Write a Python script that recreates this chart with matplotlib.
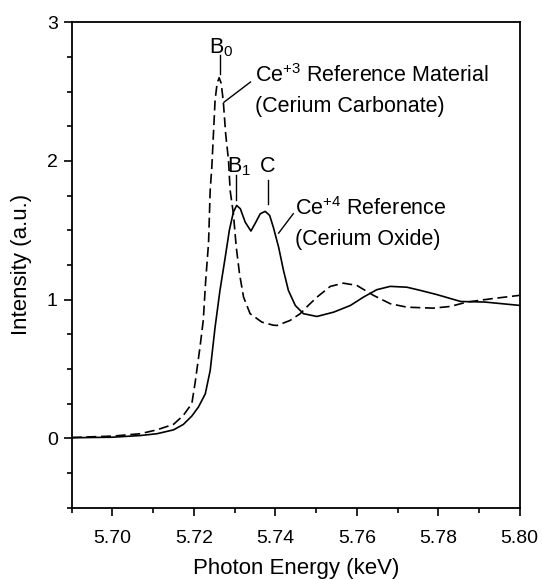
import matplotlib
matplotlib.use("Agg")
import matplotlib.pyplot as plt
from matplotlib.ticker import MultipleLocator, FormatStrFormatter

plt.rcParams['font.family'] = ['Liberation Sans', 'DejaVu Sans']
plt.rcParams['mathtext.fontset'] = 'custom'
plt.rcParams['mathtext.rm'] = 'Liberation Sans'

# Ce+3 reference (cerium carbonate), dashed
e_ce3 = [5.690, 5.700, 5.7068, 5.7109, 5.7150, 5.7174, 5.7195, 5.7203, 5.7215,
         5.7223, 5.7229, 5.7236, 5.7240, 5.7244, 5.7248, 5.7252, 5.7257, 5.7262,
         5.7267, 5.7272, 5.7278, 5.7285, 5.7289, 5.7297, 5.7304, 5.7312, 5.7322,
         5.7338, 5.7367, 5.7395, 5.7404, 5.7436, 5.7461, 5.7480, 5.7502, 5.7535,
         5.7567, 5.7600, 5.7641, 5.7682, 5.7723, 5.7787, 5.7829, 5.7871, 5.7931,
         5.7999]
i_ce3 = [0.005, 0.015, 0.032, 0.060, 0.100, 0.164, 0.250, 0.400, 0.657,
         0.850, 1.138, 1.410, 1.787, 1.955, 2.196, 2.436, 2.560, 2.600,
         2.560, 2.436, 2.196, 2.004, 1.787, 1.619, 1.378, 1.186, 1.017,
         0.898, 0.837, 0.815, 0.813, 0.849, 0.898, 0.955, 1.017, 1.095,
         1.118, 1.102, 1.030, 0.970, 0.945, 0.938, 0.950, 0.982, 1.006,
         1.030]

# Ce+4 reference (cerium oxide), solid
e_ce4 = [5.690, 5.700, 5.7068, 5.7109, 5.7150, 5.7174, 5.7195, 5.7211, 5.7228,
         5.7240, 5.7252, 5.7264, 5.7277, 5.7287, 5.7297, 5.7305, 5.7314, 5.7326,
         5.7340, 5.7350, 5.7363, 5.7375, 5.7386, 5.7395, 5.7408, 5.7420, 5.7432,
         5.7449, 5.7469, 5.7502, 5.7543, 5.7584, 5.7616, 5.7649, 5.7682, 5.7723,
         5.7756, 5.7795, 5.7855, 5.7914, 5.7999]
i_ce4 = [0.003, 0.007, 0.019, 0.032, 0.060, 0.099, 0.160, 0.224, 0.320,
         0.488, 0.800, 1.066, 1.306, 1.499, 1.631, 1.679, 1.655, 1.558,
         1.494, 1.547, 1.619, 1.636, 1.607, 1.522, 1.378, 1.210, 1.066,
         0.957, 0.898, 0.878, 0.909, 0.957, 1.017, 1.071, 1.095, 1.089,
         1.066, 1.037, 0.986, 0.982, 0.958]

fig = plt.figure(figsize=(5.42, 5.80), dpi=100)
ax = fig.add_axes([0.1323, 0.125, 0.8266, 0.8366])

ax.plot(e_ce3, i_ce3, color='black', lw=1.2, ls=(0, (6, 2.8)))
ax.plot(e_ce4, i_ce4, color='black', lw=1.2)

ax.set_xlim(5.69, 5.80)
ax.set_ylim(-0.5, 3)
ax.xaxis.set_major_locator(MultipleLocator(0.02))
ax.xaxis.set_minor_locator(MultipleLocator(0.01))
ax.yaxis.set_major_locator(MultipleLocator(1))
ax.yaxis.set_minor_locator(MultipleLocator(0.25))
ax.xaxis.set_major_formatter(FormatStrFormatter('%.2f'))
ax.tick_params(which='both', direction='out', width=1.2, labelsize=14, top=False, right=False)
ax.tick_params(which='major', length=6)
ax.tick_params(which='minor', length=3.5)
ax.tick_params(axis='x', pad=10.5)
ax.tick_params(axis='y', pad=4)
for s in ax.spines.values():
    s.set_linewidth(1.3)

ax.set_xlabel('Photon Energy (keV)', fontsize=16, labelpad=7.5)
ax.set_ylabel('Intensity (a.u.)', fontsize=16)
ax.yaxis.set_label_coords(-0.088, 0.5)

fs = 15.5
ax.text(5.7237, 2.773, r'B$\mathregular{_0}$', fontsize=fs)
ax.plot([5.7264, 5.7264], [2.761, 2.629], color='black', lw=1)
ax.text(5.7349, 2.569, r'Ce$\mathregular{^{+3}}$ Reference Material', fontsize=fs)
ax.text(5.7349, 2.352, '(Cerium Carbonate)', fontsize=fs)
ax.plot([5.7339, 5.7274], [2.569, 2.424], color='black', lw=1)

ax.text(5.7281, 1.919, r'B$\mathregular{_1}$', fontsize=fs)
ax.plot([5.7304, 5.7304], [1.895, 1.715], color='black', lw=1)
ax.text(5.7361, 1.919, 'C', fontsize=fs)
ax.plot([5.7382, 5.7382], [1.859, 1.691], color='black', lw=1)

ax.text(5.7449, 1.607, r'Ce$\mathregular{^{+4}}$ Reference', fontsize=fs)
ax.text(5.7449, 1.390, '(Cerium Oxide)', fontsize=fs)
ax.plot([5.7444, 5.7408], [1.619, 1.479], color='black', lw=1)

fig.savefig('out.png', dpi=100)
